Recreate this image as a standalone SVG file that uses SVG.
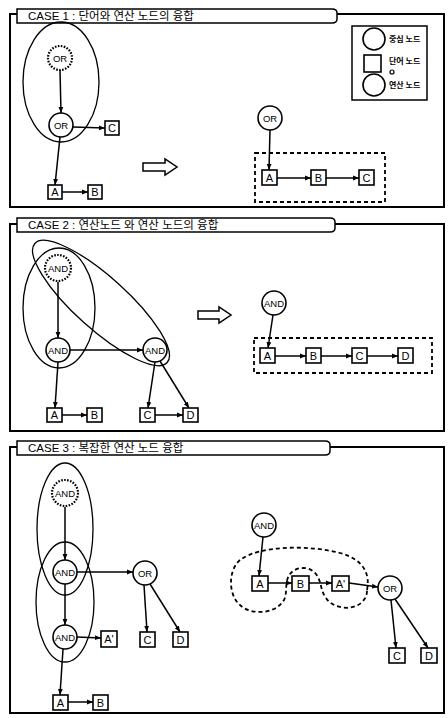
<svg xmlns="http://www.w3.org/2000/svg" width="448" height="718" viewBox="0 0 448 718">
<style>
.frame{fill:none;stroke:#000;stroke-width:2}
.tab{fill:#fff;stroke:#000;stroke-width:1.5}
.title{font-family:"Liberation Sans","Noto Sans CJK KR",sans-serif;font-size:11.5px;fill:#000}
.n{fill:#fff;stroke:#000;stroke-width:1.6}
.nd{fill:#fff;stroke:#000;stroke-width:2.2;stroke-dasharray:1.6 1.4}
.b{fill:#fff;stroke:#000;stroke-width:1.6}
.t{font-family:"Liberation Sans","Noto Sans CJK KR",sans-serif;font-size:9.5px;fill:#000;text-anchor:middle}
.bt{font-family:"Liberation Sans",sans-serif;font-size:11px;fill:#000;text-anchor:middle}
.lg{font-family:"Noto Sans CJK KR",sans-serif;font-size:8px;font-weight:bold;fill:#000}
.e{fill:none;stroke:#000;stroke-width:1.3}
.c{fill:none;stroke:#000;stroke-width:1.5;marker-end:url(#ah)}
.dr{fill:none;stroke:#000;stroke-width:1.8;stroke-dasharray:4 3}
.ha{fill:#fff;stroke:#000;stroke-width:1.5}
</style>
<defs>
<marker id="ah" viewBox="0 0 10 10" refX="10" refY="5" markerWidth="6" markerHeight="6" orient="auto" markerUnits="userSpaceOnUse">
<path d="M0,1 L10,5 L0,9 Z" fill="#000"/>
</marker>
</defs>
<rect width="448" height="718" fill="#fff"/>

<!-- Panel 1 frame -->
<g id="panel1">
<path class="frame" d="M10,22 V207 H444 V14 H337"/>
<path class="frame" d="M10,22 V14 H17"/>
<path class="tab" d="M17,9 H332 Q337,9 337,13 V19 Q337,23 332,23 H17 Z"/>
<text class="title" x="28" y="20">CASE 1 : 단어와 연산 노드의 융합</text>
</g>

<!-- Panel 2 frame -->
<g id="panel2">
<path class="frame" d="M10,232 V431 H444 V224 H335"/>
<path class="frame" d="M10,232 V224 H17"/>
<path class="tab" d="M17,218 H330 Q335,218 335,222 V228 Q335,232 330,232 H17 Z"/>
<text class="title" x="28" y="229">CASE 2 : 연산노드 와 연산 노드의 융합</text>
</g>

<!-- Panel 3 frame -->
<g id="panel3">
<path class="frame" d="M10,455 V713 H444 V447 H330"/>
<path class="frame" d="M10,455 V447 H17"/>
<path class="tab" d="M17,441 H325 Q330,441 330,445 V451 Q330,455 325,455 H17 Z"/>
<text class="title" x="28" y="452">CASE 3 : 복잡한 연산 노드 융합</text>
</g>

<!-- Legend -->
<g id="legend">
<rect x="352" y="26" width="75" height="74" fill="#fff" stroke="#000" stroke-width="1.5"/>
<circle cx="374" cy="39" r="11" class="n"/>
<text class="lg" x="389" y="42">중심 노드</text>
<rect x="364" y="55" width="17" height="17" class="b"/>
<text class="lg" x="389" y="64">단어 노드</text>
<circle cx="392" cy="72" r="2" fill="none" stroke="#000" stroke-width="1.2"/>
<circle cx="374" cy="85" r="11" class="n"/>
<text class="lg" x="389" y="88">연산 노드</text>
</g>

<!-- Groupings (ellipses / dashed regions) -->
<g id="groupings">
<ellipse class="e" cx="61" cy="82" rx="38" ry="60"/>
<rect class="dr" x="255" y="153" width="130" height="49"/>
<ellipse class="e" cx="59" cy="308" rx="36" ry="60"/>
<ellipse class="e" cx="101" cy="303" rx="89" ry="26" transform="rotate(42 101 303)"/>
<rect class="dr" x="254" y="338" width="178" height="35"/>
<ellipse class="e" cx="65" cy="529" rx="28" ry="66"/>
<ellipse class="e" cx="65" cy="602" rx="29" ry="60"/>
<path class="dr" d="M367,590 C370,575 365,560 340,553 C310,545 260,545 240,560 C228,570 228,595 240,605 C250,615 275,615 284,600 C288,592 284,582 290,574 C296,566 310,566 316,574 C322,582 320,590 326,598 C332,608 352,612 362,602 C367,597 367,593 367,590 Z"/>
</g>

<!-- Connectors -->
<g id="connectors">
<path class="c" d="M60,70 L61,113"/>
<path class="c" d="M73,127 L105,128"/>
<path class="c" d="M60,137 L55,185"/>
<path class="c" d="M62,192 L88,192"/>
<path class="c" d="M270,130 L269,170"/>
<path class="c" d="M277,178 L311,178"/>
<path class="c" d="M326,178 L359,178"/>
<polygon class="ha" points="143,163 165,163 165,159 177,167 165,175 165,171 143,171"/>
<path class="c" d="M58,282 L58,338"/>
<path class="c" d="M70,350 L143,350"/>
<path class="c" d="M58,362 L55,408"/>
<path class="c" d="M62,415 L87,415"/>
<path class="c" d="M155,362 L148,408"/>
<path class="c" d="M160,361 L189,408"/>
<path class="c" d="M155,415 L183,415"/>
<polygon class="ha" points="198,311 219,311 219,307 231,315 219,323 219,319 198,319"/>
<path class="c" d="M273,315 L268,348"/>
<path class="c" d="M275,356 L306,356"/>
<path class="c" d="M321,356 L352,356"/>
<path class="c" d="M367,356 L398,356"/>
<path class="c" d="M65,507 L65,560"/>
<path class="c" d="M77,572 L133,572"/>
<path class="c" d="M65,584 L65,625"/>
<path class="c" d="M77,637 L101,638"/>
<path class="c" d="M63,649 L60,695"/>
<path class="c" d="M68,702 L93,702"/>
<path class="c" d="M144,585 L147,632"/>
<path class="c" d="M150,584 L180,632"/>
<path class="c" d="M263,537 L259,576"/>
<path class="c" d="M268,583 L292,583"/>
<path class="c" d="M309,583 L332,583"/>
<path class="c" d="M349,583 L378,587"/>
<path class="c" d="M391,600 L396,648"/>
<path class="c" d="M395,599 L428,648"/>
</g>

<!-- Case 1 nodes -->
<g id="c1-or-top"><circle cx="60" cy="58" r="12" class="nd"/><text class="t" x="60" y="61.5">OR</text></g>
<g id="c1-or"><circle cx="61" cy="125" r="12" class="n"/><text class="t" x="61" y="128.5">OR</text></g>
<g id="c1-c"><rect x="105" y="121" width="14" height="14" class="b"/><text class="bt" x="112" y="132">C</text></g>
<g id="c1-a"><rect x="48" y="185" width="14" height="14" class="b"/><text class="bt" x="55" y="196">A</text></g>
<g id="c1-b"><rect x="88" y="185" width="14" height="14" class="b"/><text class="bt" x="95" y="196">B</text></g>
<g id="c1r-or"><circle cx="270" cy="118" r="12" class="n"/><text class="t" x="270" y="121.5">OR</text></g>
<g id="c1r-a"><rect x="262" y="170" width="15" height="15" class="b"/><text class="bt" x="269.5" y="182">A</text></g>
<g id="c1r-b"><rect x="311" y="170" width="15" height="15" class="b"/><text class="bt" x="318.5" y="182">B</text></g>
<g id="c1r-c"><rect x="359" y="170" width="15" height="15" class="b"/><text class="bt" x="366.5" y="182">C</text></g>

<!-- Case 2 nodes -->
<g id="c2-and-top"><circle cx="58" cy="268" r="13" class="nd"/><text class="t" x="58" y="271.5">AND</text></g>
<g id="c2-and-mid"><circle cx="58" cy="350" r="12" class="n"/><text class="t" x="58" y="353.5">AND</text></g>
<g id="c2-and-right"><circle cx="155" cy="350" r="12" class="n"/><text class="t" x="155" y="353.5">AND</text></g>
<g id="c2-a"><rect x="47" y="408" width="15" height="14" class="b"/><text class="bt" x="54.5" y="419">A</text></g>
<g id="c2-b"><rect x="87" y="408" width="15" height="14" class="b"/><text class="bt" x="94.5" y="419">B</text></g>
<g id="c2-c"><rect x="140" y="408" width="15" height="14" class="b"/><text class="bt" x="147.5" y="419">C</text></g>
<g id="c2-d"><rect x="183" y="408" width="15" height="14" class="b"/><text class="bt" x="190.5" y="419">D</text></g>
<g id="c2r-and"><circle cx="274" cy="303" r="12" class="n"/><text class="t" x="274" y="306.5">AND</text></g>
<g id="c2r-a"><rect x="260" y="348" width="15" height="15" class="b"/><text class="bt" x="267.5" y="360">A</text></g>
<g id="c2r-b"><rect x="306" y="348" width="15" height="15" class="b"/><text class="bt" x="313.5" y="360">B</text></g>
<g id="c2r-c"><rect x="352" y="348" width="15" height="15" class="b"/><text class="bt" x="359.5" y="360">C</text></g>
<g id="c2r-d"><rect x="398" y="348" width="15" height="15" class="b"/><text class="bt" x="405.5" y="360">D</text></g>

<!-- Case 3 nodes -->
<g id="c3-and-top"><circle cx="65" cy="493" r="13" class="nd"/><text class="t" x="65" y="496.5">AND</text></g>
<g id="c3-and-mid"><circle cx="65" cy="572" r="12" class="n"/><text class="t" x="65" y="575.5">AND</text></g>
<g id="c3-or"><circle cx="145" cy="573" r="12" class="n"/><text class="t" x="145" y="576.5">OR</text></g>
<g id="c3-and-bot"><circle cx="65" cy="637" r="12" class="n"/><text class="t" x="65" y="640.5">AND</text></g>
<g id="c3-a2"><rect x="101" y="631" width="16" height="16" class="b"/><text class="bt" x="109" y="643">A'</text></g>
<g id="c3-c"><rect x="140" y="632" width="15" height="15" class="b"/><text class="bt" x="147.5" y="644">C</text></g>
<g id="c3-d"><rect x="173" y="632" width="15" height="15" class="b"/><text class="bt" x="180.5" y="644">D</text></g>
<g id="c3-a"><rect x="53" y="695" width="15" height="15" class="b"/><text class="bt" x="60.5" y="707">A</text></g>
<g id="c3-b"><rect x="93" y="695" width="15" height="15" class="b"/><text class="bt" x="100.5" y="707">B</text></g>
<g id="c3r-and"><circle cx="264" cy="525" r="12" class="n"/><text class="t" x="264" y="528.5">AND</text></g>
<g id="c3r-a"><rect x="252" y="576" width="16" height="15" class="b"/><text class="bt" x="260" y="588">A</text></g>
<g id="c3r-b"><rect x="292" y="576" width="17" height="15" class="b"/><text class="bt" x="300.5" y="588">B</text></g>
<g id="c3r-a2"><rect x="332" y="576" width="17" height="15" class="b"/><text class="bt" x="340.5" y="588">A'</text></g>
<g id="c3r-or"><circle cx="390" cy="588" r="12" class="n"/><text class="t" x="390" y="591.5">OR</text></g>
<g id="c3r-c"><rect x="389" y="648" width="16" height="15" class="b"/><text class="bt" x="397" y="660">C</text></g>
<g id="c3r-d"><rect x="421" y="648" width="16" height="15" class="b"/><text class="bt" x="429" y="660">D</text></g>
</svg>
